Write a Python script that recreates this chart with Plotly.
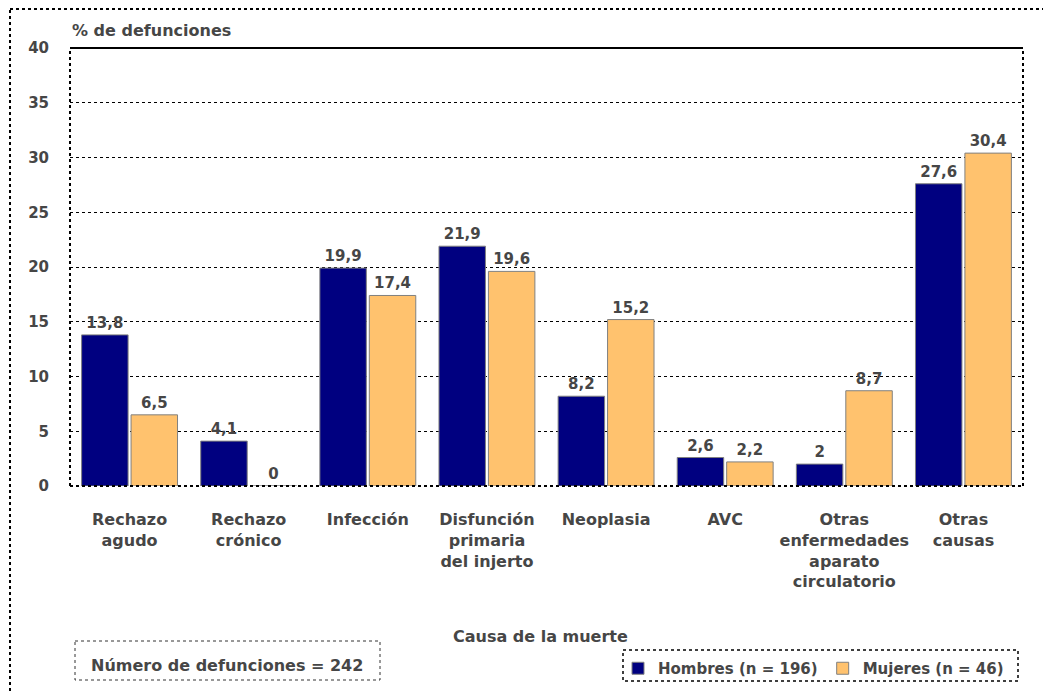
import plotly.graph_objects as go

categories = ["Rechazo<br>agudo", "Rechazo<br>crónico", "Infección",
              "Disfunción<br>primaria<br>del injerto", "Neoplasia", "AVC",
              "Otras<br>enfermedades<br>aparato<br>circulatorio", "Otras<br>causas"]
hombres = [13.8, 4.1, 19.9, 21.9, 8.2, 2.6, 2.0, 27.6]
mujeres = [6.5, 0.0, 17.4, 19.6, 15.2, 2.2, 8.7, 30.4]
y_ticks = [0, 5, 10, 15, 20, 25, 30, 35, 40]

FONT = "DejaVu Sans, Liberation Sans, Arial, sans-serif"
TXT = "#464646"
FS = 16


def fmt(v):
    # comma as decimal separator, as in the original
    if v == int(v):
        return str(int(v))
    return f"{v:.1f}".replace(".", ",")


def b(s):
    return "<b>" + s + "</b>"


# plot area in pixels (for placing the extra boxes)
W, H = 1043, 691
L, R, T, B = 70, 20, 48, 205
pw, ph = W - L - R, H - T - B


def px(x):
    return (x - L) / pw


def py(y):
    return (H - B - y) / ph


fig = go.Figure()
fig.add_trace(go.Bar(x=categories, y=hombres, name=b("Hombres (n = 196)"),
                     marker=dict(color="#000080", line=dict(color="#808080", width=1)),
                     text=[b(fmt(v)) for v in hombres], textposition="outside",
                     textfont=dict(size=15, color=TXT, family=FONT), cliponaxis=False))
fig.add_trace(go.Bar(x=categories, y=mujeres, name=b("Mujeres (n = 46)"),
                     marker=dict(color="#FFC26E", line=dict(color="#808080", width=1)),
                     text=[b(fmt(v)) for v in mujeres], textposition="outside",
                     textfont=dict(size=15, color=TXT, family=FONT), cliponaxis=False))

fig.update_layout(
    width=W, height=H,
    margin=dict(l=L, r=R, t=T, b=B, autoexpand=False),
    plot_bgcolor="white", paper_bgcolor="white",
    font=dict(family=FONT, size=FS, color=TXT),
    barmode="group", bargap=0.17, bargroupgap=0.06,
    showlegend=True,
    legend=dict(orientation="h", xref="container", yref="container",
                x=618 / W, y=1 - 652 / H, xanchor="left", yanchor="top",
                bgcolor="rgba(0,0,0,0)", font=dict(size=15, color=TXT, family=FONT),
                itemwidth=30, traceorder="normal"),
    uniformtext=dict(mode="show", minsize=10),
)

fig.update_xaxes(
    showgrid=False, showline=False, ticks="", ticklabelstandoff=22, automargin=False,
    tickvals=categories, ticktext=[b(c) for c in categories],
    tickfont=dict(size=FS, color=TXT, family=FONT),
)
fig.update_yaxes(
    range=[0, 40], tickvals=y_ticks, ticktext=[b(str(t)) for t in y_ticks],
    showgrid=True, gridcolor="black", griddash="dot", automargin=False,
    gridwidth=1, zeroline=False, showline=False, ticks="", ticklabelstandoff=20,
    tickfont=dict(size=15, color=TXT, family=FONT),
)

shapes = [
    # plot frame
    dict(type="line", xref="paper", yref="paper", x0=0, x1=1, y0=1, y1=1, line=dict(color="black", width=2)),
    dict(type="line", xref="paper", yref="paper", x0=0, x1=0, y0=0, y1=1, line=dict(color="black", width=2, dash="dot")),
    dict(type="line", xref="paper", yref="paper", x0=1, x1=1, y0=0, y1=1, line=dict(color="black", width=2, dash="dot")),
    dict(type="line", xref="paper", yref="paper", x0=0, x1=1, y0=0, y1=0, line=dict(color="black", width=2, dash="dot")),
    # outer frame of the figure
    dict(type="rect", xref="paper", yref="paper", x0=px(10), x1=px(1060), y0=py(9), y1=py(710),
         line=dict(color="black", width=2, dash="dot")),
    # count box
    dict(type="rect", xref="paper", yref="paper", x0=px(75), x1=px(380), y0=py(641), y1=py(680),
         line=dict(color="#333333", width=1, dash="dot")),
    # legend box
    dict(type="rect", xref="paper", yref="paper", x0=px(623), x1=px(1018), y0=py(650), y1=py(681),
         line=dict(color="black", width=1.5, dash="dot")),
]
fig.update_layout(shapes=shapes)

fig.add_annotation(text=b("% de defunciones"), xref="paper", yref="paper", x=0, y=py(31),
                   xanchor="left", yanchor="middle", showarrow=False, font=dict(size=FS, color=TXT))
fig.add_annotation(text=b("Causa de la muerte"), xref="paper", yref="paper", x=px(540), y=py(636),
                   xanchor="center", yanchor="middle", showarrow=False, font=dict(size=FS, color=TXT))
fig.add_annotation(text=b("Número de defunciones = 242"), xref="paper", yref="paper", x=px(227), y=py(665),
                   xanchor="center", yanchor="middle", showarrow=False, font=dict(size=FS, color=TXT))

# drop the default page margin so the figure sits at the top-left corner
fig.write_html("out.html", config={"displayModeBar": False},
               post_script="document.body.style.margin='0';")
